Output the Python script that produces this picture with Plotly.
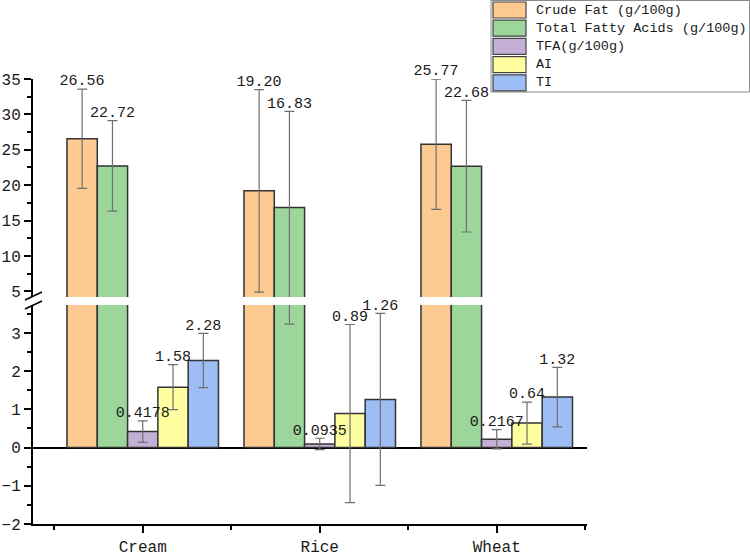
import plotly.graph_objects as go

categories = ["Cream", "Rice", "Wheat"]
series_names = ["Crude Fat (g/100g)", "Total Fatty Acids (g/100g)", "TFA(g/100g)", "AI", "TI"]
crude_fat = [26.56, 19.20, 25.77]
crude_fat_err = [7.0, 14.3, 9.2]
total_fa = [22.72, 16.83, 22.68]
total_fa_err = [6.4, 13.6, 9.3]
tfa = [0.4178, 0.0935, 0.2167]
tfa_err = [0.28, 0.15, 0.25]
ai = [1.58, 0.89, 0.64]
ai_err = [0.59, 2.33, 0.55]
ti = [2.28, 1.26, 1.32]
ti_err = [0.71, 2.25, 0.78]
label_texts = [
    ["26.56", "19.20", "25.77"],
    ["22.72", "16.83", "22.68"],
    ["0.4178", "0.0935", "0.2167"],
    ["1.58", "0.89", "0.64"],
    ["2.28", "1.26", "1.32"],
]
values = [crude_fat, total_fa, tfa, ai, ti]
errors = [crude_fat_err, total_fa_err, tfa_err, ai_err, ti_err]
colors = ["#FDCB92", "#9CD69B", "#C4B0D6", "#FFFFA0", "#9DBDF5"]

W, H = 750, 556
FONT = "Liberation Mono"
x_idx = list(range(len(categories)))
group_width = 0.856
bar_w = group_width / len(values)
break_low, break_high = 3.73, 4.2

fig = go.Figure()
for i, (name, vals, errs, col) in enumerate(zip(series_names, values, errors, colors)):
    for xa, ya in (("x", "y"), ("x2", "y2")):
        fig.add_trace(go.Bar(
            x=x_idx, y=vals, name=name, xaxis=xa, yaxis=ya,
            marker=dict(color=col, line=dict(color="#333333", width=1.5)),
            error_y=dict(type="data", array=errs, visible=True, color="#707070",
                         thickness=1.2, width=5),
            showlegend=False,
        ))
    # value labels placed above the error bar tops
    offset = (i - (len(values) - 1) / 2) * bar_w
    tops = [v + e for v, e in zip(vals, errs)]
    lo_x, lo_y, lo_t, hi_x, hi_y, hi_t = [], [], [], [], [], []
    for k, t in enumerate(tops):
        txt = label_texts[i][k]
        if t > break_high:
            hi_x.append(x_idx[k] + offset); hi_y.append(t); hi_t.append(txt)
        else:
            lo_x.append(x_idx[k] + offset); lo_y.append(t); lo_t.append(txt)
    for xs, ys, ts, xa, ya in ((lo_x, lo_y, lo_t, "x", "y"), (hi_x, hi_y, hi_t, "x2", "y2")):
        if xs:
            fig.add_trace(go.Scatter(
                x=xs, y=ys, text=ts, mode="text", textposition="top center",
                textfont=dict(family=FONT, size=15, color="#1a1a1a"),
                xaxis=xa, yaxis=ya, cliponaxis=False, showlegend=False,
                hoverinfo="skip",
            ))

xdom = [33 / W, 587 / W]
xrange = [-0.62, 2.51]
axis_common = dict(showgrid=False, linecolor="black", linewidth=2, ticks="outside",
                   tickcolor="black", tickwidth=1.5, automargin=False,
                   tickfont=dict(family=FONT, size=16, color="#1a1a1a"))

fig.update_layout(
    width=W, height=H, template="none",
    paper_bgcolor="white", plot_bgcolor="rgba(0,0,0,0)",
    margin=dict(l=0, r=0, t=0, b=0),
    barmode="group", bargap=1 - group_width, bargroupgap=0,
    xaxis=dict(domain=xdom, range=xrange, anchor="y", tickvals=x_idx, ticktext=categories,
               ticklen=7, zeroline=False,
               minor=dict(tick0=0.5, dtick=1, ticks="outside", ticklen=4, tickcolor="black", tickwidth=1.5),
               **axis_common),
    xaxis2=dict(domain=xdom, range=xrange, anchor="y2", matches="x", visible=False),
    yaxis=dict(domain=[(H - 524) / H, (H - 305) / H], range=[-2, break_low], anchor="x",
               tickvals=[-2, -1, 0, 1, 2, 3], ticklen=7,
               zeroline=True, zerolinecolor="black", zerolinewidth=2,
               minor=dict(dtick=0.5, tick0=0, ticks="outside", ticklen=4, tickcolor="black", tickwidth=1.5),
               **axis_common),
    yaxis2=dict(domain=[(H - 297) / H, (H - 79) / H], range=[break_high, 35], anchor="x2",
                tickvals=[5, 10, 15, 20, 25, 30, 35], ticklen=7, zeroline=False,
                minor=dict(dtick=2.5, tick0=0, ticks="outside", ticklen=4, tickcolor="black", tickwidth=1.5),
                **axis_common),
)

shapes = []
# break marks on the y axis
for dy in (0, 9):
    shapes.append(dict(type="line", xref="paper", yref="paper",
                       x0=25 / W, y0=1 - (300 + dy) / H, x1=42 / W, y1=1 - (292 + dy) / H,
                       line=dict(color="black", width=1.5)))
# legend box
shapes.append(dict(type="rect", xref="paper", yref="paper",
                   x0=491 / W, x1=749.5 / W, y0=1 - 92 / H, y1=1 - 0.5 / H,
                   line=dict(color="#8a8a8a", width=1), fillcolor="white"))
annotations = []
for i, (name, col) in enumerate(zip(series_names, colors)):
    top = 2 + i * 18.2
    shapes.append(dict(type="rect", xref="paper", yref="paper",
                       x0=493 / W, x1=526 / W, y0=1 - (top + 16) / H, y1=1 - top / H,
                       line=dict(color="#444444", width=1.2), fillcolor=col))
    annotations.append(dict(xref="paper", yref="paper", x=534 / W, y=1 - (top + 8) / H,
                            text=name, showarrow=False, xanchor="left", yanchor="middle",
                            font=dict(family=FONT, size=13.5, color="#1a1a1a")))
fig.update_layout(shapes=shapes, annotations=annotations)

fig.write_html("out.html")
